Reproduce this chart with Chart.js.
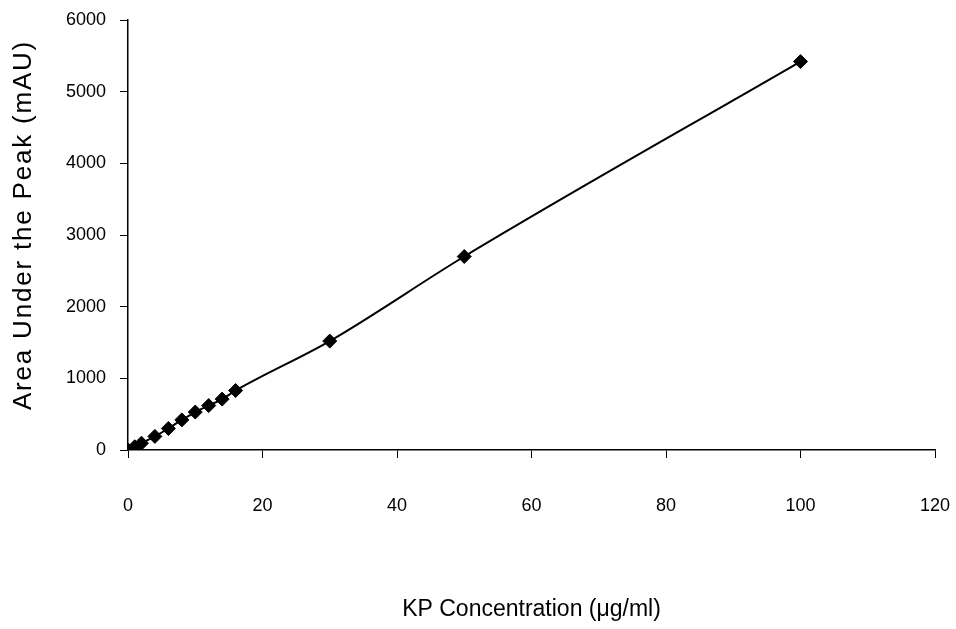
<!DOCTYPE html>
<html>
<head>
<meta charset="utf-8">
<script src="https://cdn.jsdelivr.net/npm/chart.js@4"></script>
<style>
  html, body { margin: 0; padding: 0; background: #fff; }
  #kp_curve { display: block; }
</style>
</head>
<body>
<canvas id="kp_curve" width="956" height="629"></canvas>
<script>
// calibration data
const concentrations = [0, 1, 2, 4, 6, 8, 10, 12, 14, 16, 30, 50, 100];
const peakAreas = [0, 45, 95, 190, 300, 420, 530, 620, 710, 830, 1520, 2700, 5420];
const xTicks = [0, 20, 40, 60, 80, 100, 120];
const yTicks = [0, 1000, 2000, 3000, 4000, 5000, 6000];

const FONT = 'Liberation Sans, Arial, sans-serif';
const points = concentrations.map((c, i) => ({ x: c, y: peakAreas[i] }));

// y title is spaced out in the original, so draw it with letterSpacing
const yTitle = {
  id: 'yTitle',
  afterDraw(chart) {
    const c = chart.ctx;
    const a = chart.chartArea;
    c.save();
    c.translate(24, (a.top + a.bottom) / 2 - 10);
    c.rotate(-Math.PI / 2);
    c.font = '26px ' + FONT;
    c.letterSpacing = '1.8px';
    c.fillStyle = '#000';
    c.textAlign = 'center';
    c.textBaseline = 'middle';
    c.fillText('Area Under the Peak (mAU)', 0, 0);
    c.restore();
  }
};

const ctx = document.getElementById('kp_curve');

new Chart(ctx, {
  type: 'scatter',
  data: {
    datasets: [{
      data: points,
      showLine: true,
      borderColor: '#000',
      borderWidth: 2,
      cubicInterpolationMode: 'monotone',
      pointStyle: 'rectRot',
      pointRadius: 7,
      pointBackgroundColor: '#000',
      pointBorderColor: '#000',
      pointBorderWidth: 1
    }]
  },
  options: {
    responsive: false,
    animation: false,
    layout: {
      padding: { left: 7, right: 21, top: 20, bottom: 2 }
    },
    plugins: {
      legend: { display: false },
      tooltip: { enabled: false }
    },
    scales: {
      x: {
        type: 'linear',
        min: 0,
        max: 120,
        afterBuildTicks: (s) => { s.ticks = xTicks.map(v => ({ value: v })); },
        afterFit: (s) => {
          s.height = 627 - 450;
          s.paddingLeft = 0;
          s.paddingRight = 0;
        },
        border: { display: true, color: '#000', width: 1.5 },
        grid: {
          drawOnChartArea: false,
          drawTicks: true,
          tickLength: 8,
          color: '#000'
        },
        ticks: {
          padding: 37,
          color: '#000',
          font: { family: FONT, size: 18 },
          maxRotation: 0
        },
        title: {
          display: true,
          text: 'KP Concentration (μg/ml)',
          color: '#000',
          font: { family: FONT, size: 23 }
        }
      },
      y: {
        type: 'linear',
        min: 0,
        max: 6000,
        afterBuildTicks: (s) => { s.ticks = yTicks.map(v => ({ value: v })); },
        afterFit: (s) => {
          s.width = 128 - 7;
          s.paddingTop = 0;
          s.paddingBottom = 0;
        },
        border: { display: true, color: '#000', width: 1.5 },
        grid: {
          drawOnChartArea: false,
          drawTicks: true,
          tickLength: 8,
          color: '#000'
        },
        ticks: {
          padding: 14,
          color: '#000',
          font: { family: FONT, size: 18 },
          callback: (v) => String(v)
        }
      }
    }
  },
  plugins: [yTitle]
});
</script>
</body>
</html>
